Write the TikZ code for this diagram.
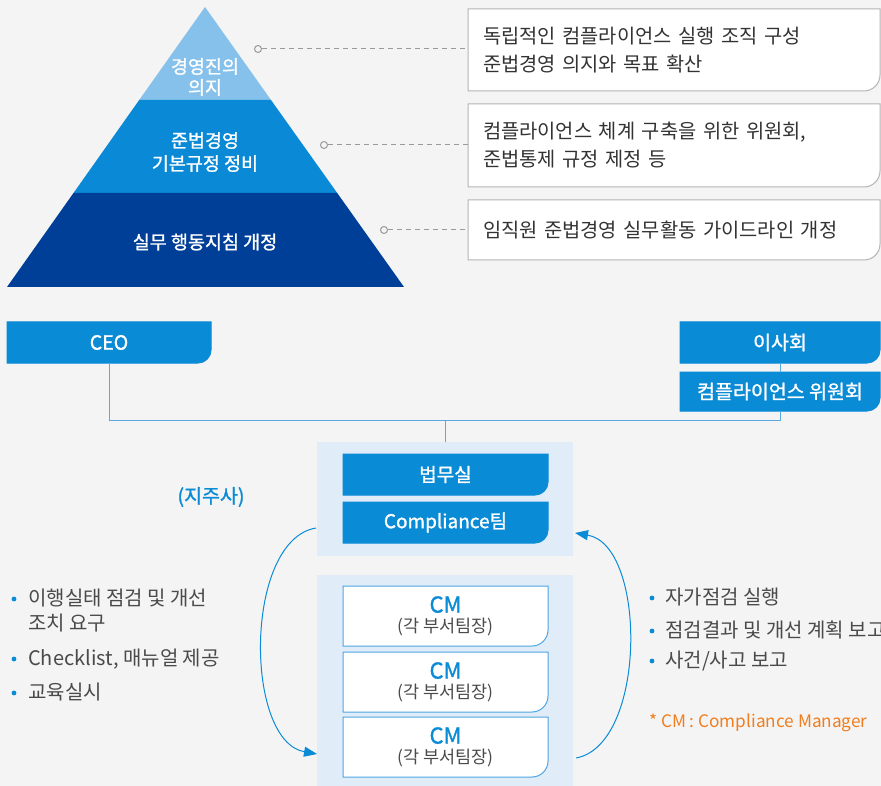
\documentclass[tikz,border=0pt]{standalone}
\usepackage{fontspec}
\setmainfont{Noto Sans CJK KR}
\newfontfamily\medf[FakeBold=1.2]{Noto Sans CJK KR}
\usetikzlibrary{arrows.meta,calc}
\definecolor{bgc}{HTML}{F4F4F4}
\definecolor{pyrA}{HTML}{85C1EA}
\definecolor{pyrB}{HTML}{0A8AD6}
\definecolor{pyrC}{HTML}{003F98}
\definecolor{mblue}{HTML}{0A8BD6}
\definecolor{panelc}{HTML}{E0ECF8}
\definecolor{cmborder}{HTML}{4DA5E2}
\definecolor{linec}{HTML}{5AAAE0}
\definecolor{txt}{HTML}{333333}
\definecolor{gtxt}{HTML}{4A4A4A}
\definecolor{orng}{HTML}{F07E1E}
\definecolor{dashc}{HTML}{9A9A9A}
\definecolor{boxb}{HTML}{B4B4B4}
\pgfdeclarelayer{bg}\pgfdeclarelayer{mid}\pgfsetlayers{bg,mid,main}
\newcommand\fs[2]{\fontsize{#1}{#2}\selectfont}
\newcommand\rrshape[4]{%
  \begin{pgfonlayer}{mid}
  \path[fill=#3,draw=#4,line width=1pt] (#1.north west) -- (#1.north east)
    -- ($(#1.south east)+(0,-#2)$)
    .. controls ($(#1.south east)+(0,-0.45*#2)$) and ($(#1.south east)+(-0.45*#2,0)$)
    .. ($(#1.south east)+(-#2,0)$) -- (#1.south west) -- cycle;
  \end{pgfonlayer}}
\begin{document}
\begin{tikzpicture}[x=1pt,y=-1pt,
  boxn/.style={anchor=north west,inner sep=0pt,outer sep=0pt},
  pyrtext/.style={text=white,align=center,font=\medf\fs{18.5}{21}},
  desc/.style={boxn,text=txt,align=left,inner xsep=15pt,font=\fs{19.8}{28}},
  whitelab/.style={boxn,text=white,font=\medf\fs{19.5}{22}},
  dotn/.style={circle,draw=dashc,fill=bgc,line width=1pt,minimum size=7pt,inner sep=0pt},
  dashline/.style={draw=dashc,line width=1pt,dash pattern=on 5pt off 4pt},
  conn/.style={draw=linec,line width=1pt},
  arc/.style={draw=mblue,line width=1pt,-{Triangle[length=13pt,width=10pt]}},
  bullet/.style={anchor=base west,text=gtxt,align=left,font=\fs{20}{25},inner sep=0pt}
]
\useasboundingbox (0,0) rectangle (881,786);
\begin{pgfonlayer}{bg}
\fill[bgc] (0,0) rectangle (881,786);
\node[boxn,fill=panelc,minimum width=256pt,minimum height=114pt] (p1) at (317,442) {};
\node[boxn,fill=panelc,minimum width=256pt,minimum height=212pt] (p2) at (317,575) {};
\end{pgfonlayer}

% pyramid
\fill[pyrA] (205,7) -- (271,100) -- (139.2,100) -- cycle;
\fill[pyrB] (139.2,100) -- (271,100) -- (337.2,193) -- (73.5,193) -- cycle;
\fill[pyrC] (73.5,193) -- (337.2,193) -- (404,287) -- (7,287) -- cycle;
\node[pyrtext] (t1) at (205,77) {경영진의\\의지};
\node[pyrtext] (t2) at (205,152) {준법경영\\[2pt]기본규정 정비};
\node[pyrtext] (t3) at (205,242) {실무 행동지침 개정};

% description boxes
\node[desc,minimum width=412pt,minimum height=82pt,text width=382pt] (b1) at (468,9)
  {독립적인 컴플라이언스 실행 조직 구성\\준법경영 의지와 목표 확산};
\node[desc,minimum width=412pt,minimum height=83pt,text width=382pt] (b2) at (468,104)
  {컴플라이언스 체계 구축을 위한 위원회,\\준법통제 규정 제정 등};
\node[desc,minimum width=412pt,minimum height=60pt,text width=382pt] (b3) at (468,200)
  {임직원 준법경영 실무활동 가이드라인 개정};
\rrshape{b1}{16}{white}{boxb}
\rrshape{b2}{16}{white}{boxb}
\rrshape{b3}{16}{white}{boxb}

\node[dotn] (d1) at (258,49) {};
\node[dotn] (d2) at (324,145) {};
\node[dotn] (d3) at (384,230) {};
\draw[dashline] (d1.east) -- (d1 -| b1.west);
\draw[dashline] (d2.east) -- (d2 -| b2.west);
\draw[dashline] (d3.east) -- (d3 -| b3.west);

% top organisation
\node[whitelab,minimum width=204pt,minimum height=41pt] (ceo) at (7,322) {CEO};
\node[whitelab,minimum width=200pt,minimum height=41pt] (isa) at (680,322) {이사회};
\node[whitelab,minimum width=200pt,minimum height=39pt] (com) at (680,372) {컴플라이언스 위원회};
\rrshape{ceo}{13}{mblue}{mblue}
\rrshape{isa}{13}{mblue}{mblue}
\rrshape{com}{13}{mblue}{mblue}
\coordinate (j) at (445,420);
\draw[conn] (ceo.south) -- (ceo.south |- j) -| (com.south);
\draw[conn] (isa.south) -- (com.north);
\draw[conn] (j) -- (p1.north);

% holding company panel
\node[whitelab,minimum width=205pt,minimum height=41pt,font=\medf\fs{19}{22}] (legal) at (343,454) {법무실};
\node[whitelab,minimum width=205pt,minimum height=41pt,font=\medf\fs{19}{22}] (cteam) at (343,502) {Compliance팀};
\rrshape{legal}{13}{mblue}{mblue}
\rrshape{cteam}{13}{mblue}{mblue}
\node[text=mblue,font=\medf\fs{19.5}{22}] (hold) at (211,497) {(지주사)};

% CM boxes
\foreach \n/\y in {cm1/586,cm2/652,cm3/717}{
  \node[boxn,minimum width=205pt,minimum height=60pt,align=center] (\n) at (343,\y)
    {{\medf\fs{22}{23}\color{mblue}CM}\\[4pt]{\fs{17.5}{20}\color{gtxt}(각 부서팀장)}};
  \rrshape{\n}{16}{white}{cmborder}
}

% arcs
\draw[arc] ($(p1.south west)+(-1,-28)$) .. controls (244,540) and (244,741) .. ($(p2.south west)+(0,-33)$);
\draw[arc] ($(p2.south east)+(3,-29)$) .. controls (647,745) and (647,545) .. ($(p1.south east)+(2,-23)$);

% bullets left
\fill[mblue] (14,599) circle (2.4);
\fill[mblue] (14,659) circle (2.4);
\fill[mblue] (14,693) circle (2.4);
\node[bullet] (l1) at (28,630) {이행실태 점검 및 개선\\조치 요구};
\node[bullet] (l2) at (28,665) {Checklist, 매뉴얼 제공};
\node[bullet] (l3) at (28,699) {교육실시};

% bullets right
\fill[mblue] (652,598) circle (2.4);
\fill[mblue] (652,631) circle (2.4);
\fill[mblue] (652,661) circle (2.4);
\node[bullet] (r1) at (665,604) {자가점검 실행};
\node[bullet] (r2) at (665,637) {점검결과 및 개선 계획 보고};
\node[bullet] (r3) at (665,667) {사건/사고 보고};
\node[anchor=west,text=orng,font=\fs{17.2}{20},inner sep=0pt] (note) at (649,723) {* CM : Compliance Manager};
\end{tikzpicture}
\end{document}
